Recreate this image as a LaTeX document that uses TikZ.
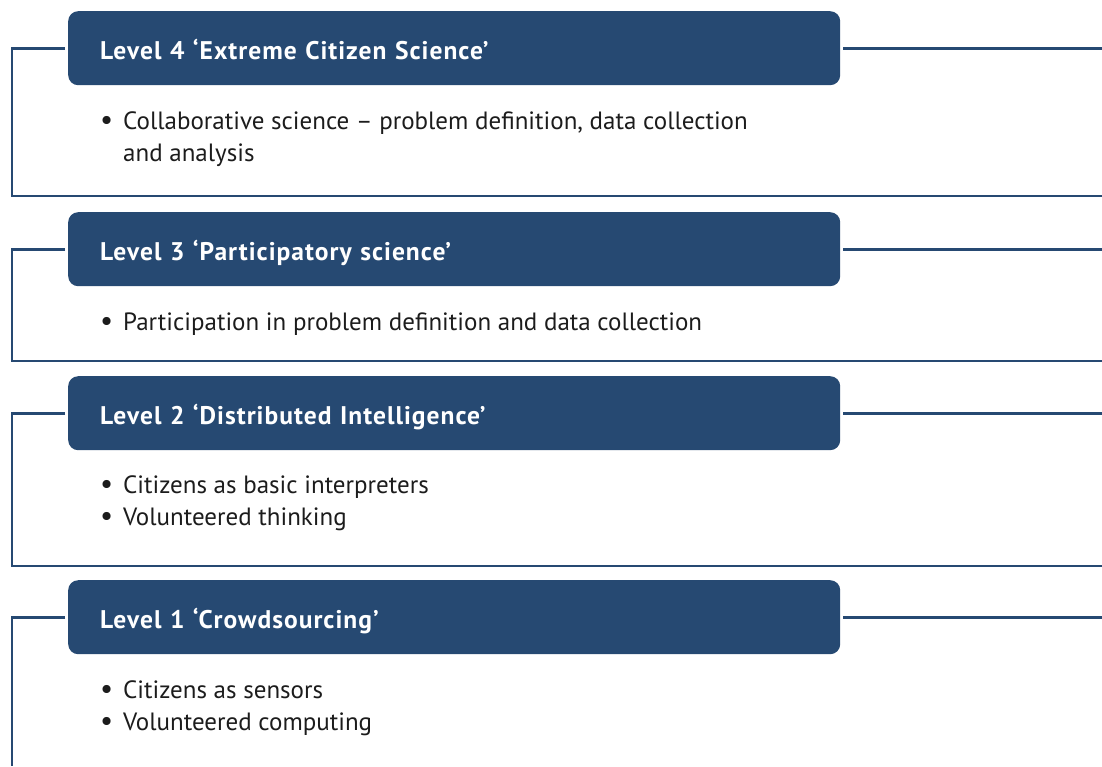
\documentclass[tikz,border=0pt]{standalone}
\usepackage{fontspec}
\setmainfont{PT Sans}
\usepackage{tikz}

\definecolor{levelblue}{RGB}{38,73,114}
\definecolor{bodyink}{RGB}{28,28,28}

\tikzset{
    levelbox/.style={fill=levelblue, rounded corners=10pt, anchor=north west,
        minimum width=772pt, minimum height=74pt, inner xsep=32pt,
        text width=708pt, align=left, text=white, text height=23pt, text depth=0pt,
        font=\fontsize{25.5}{30}\selectfont\bfseries\addfontfeatures{LetterSpace=4}},
    itemtext/.style={anchor=base west, inner sep=0pt, text=bodyink,
        font=\fontsize{25}{30}\selectfont},
    frame/.style={draw=levelblue, line width=2.6pt}
}
\newcommand{\bul}{\makebox[23pt][l]{\fontsize{29}{30}\selectfont\textbullet}}

\begin{document}
\begin{tikzpicture}[x=1pt, y=-1pt]
    \useasboundingbox (0,0) rectangle (1102,766);
    % level headers
    \node[levelbox] (L4) at (68,11) {Level 4 ‘Extreme Citizen Science’};
    \node[levelbox] (L3) at (68,212) {Level 3 ‘Participatory science’};
    \node[levelbox] (L2) at (68,376) {Level 2 ‘Distributed Intelligence’};
    \node[levelbox] (L1) at (68,580) {Level 1 ‘Crowdsourcing’};
    % frame corners
    \coordinate (b4) at (12,196);
    \coordinate (b3) at (12,361);
    \coordinate (b2) at (12,566);
    \coordinate (b1) at (12,766);
    \coordinate (edge) at (1102,0);
    % frame lines
    \foreach \lv in {4, 3, 2}
    {
        \draw[frame] ([xshift=-3pt]L\lv.west) -| (b\lv) -- (b\lv -| edge);
        \draw[frame] ([xshift=3pt]L\lv.east) -- (L\lv.east -| edge);
    }
    \draw[frame] ([xshift=-3pt]L1.west) -| (b1);
    \draw[frame] ([xshift=3pt]L1.east) -- (L1.east -| edge);
    % items
    \node[itemtext] (t4a) at (100,129) {\bul Collaborative science – problem definition, data collection};
    \node[itemtext] (t4b) at (123,161) {and analysis};
    \node[itemtext] (t3a) at (100,330) {\bul Participation in problem definition and data collection};
    \node[itemtext] (t2a) at (100,493) {\bul Citizens as basic interpreters};
    \node[itemtext] (t2b) at (100,525) {\bul Volunteered thinking};
    \node[itemtext] (t1a) at (100,698) {\bul Citizens as sensors};
    \node[itemtext] (t1b) at (100,730) {\bul Volunteered computing};
\end{tikzpicture}
\end{document}
